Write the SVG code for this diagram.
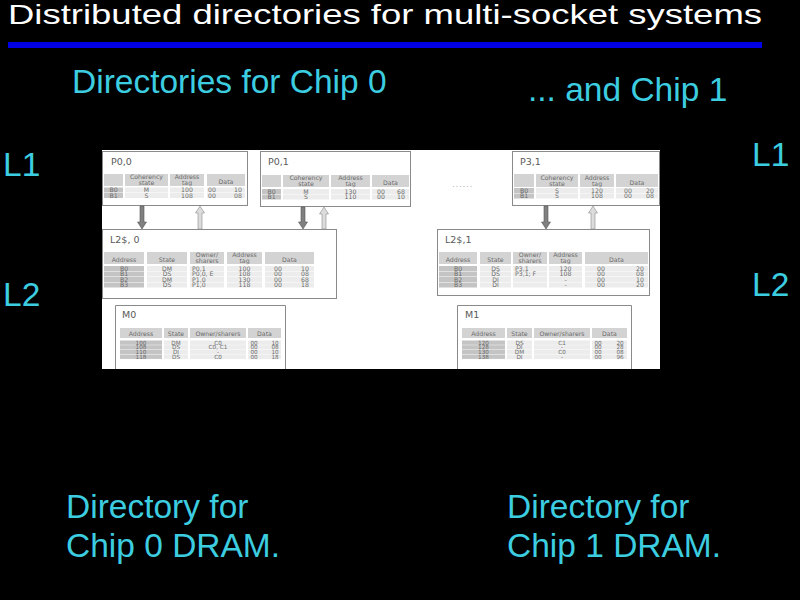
<svg xmlns="http://www.w3.org/2000/svg" width="800" height="600" viewBox="0 0 800 600">
<defs>
<style>
.big{font-family:"Liberation Sans",Arial,sans-serif;fill:#3ccde0;font-size:33.5px}
.box{fill:#fff;stroke:#8a8a8a;stroke-width:1}
.hd{fill:#d3d3d3}
.lb{fill:#c4c4c4}
.cl{fill:#ececec}
.tt{font-family:"DejaVu Sans",Verdana,sans-serif;fill:#5a5a5a;font-size:9.5px}
.t{font-family:"DejaVu Sans",Verdana,sans-serif;fill:#6b6b6b;font-size:6.2px;text-anchor:middle}
.s{font-size:5.7px}
.l{text-anchor:start}
.dn{fill:#808080;stroke:#555;stroke-width:0.6}
.up{fill:#dcdcdc;stroke:#8a8a8a;stroke-width:0.6}
</style>
</defs>
<rect width="800" height="600" fill="#000"/>
<g id="title">
<text x="8" y="24" font-family="'Liberation Sans',Arial,sans-serif" font-size="28" fill="#fff" textLength="754" lengthAdjust="spacingAndGlyphs">Distributed directories for multi-socket systems</text>
<rect x="8" y="42" width="754" height="6" fill="#0000e6"/>
</g>
<g id="labels">
<text class="big" x="72" y="93">Directories for Chip 0</text>
<text class="big" x="528" y="101">... and Chip 1</text>
<text class="big" x="3" y="176">L1</text>
<text class="big" x="3" y="306">L2</text>
<text class="big" x="752" y="166">L1</text>
<text class="big" x="752" y="296">L2</text>
<text class="big" x="66" y="518">Directory for</text>
<text class="big" x="66" y="557">Chip 0 DRAM.</text>
<text class="big" x="507" y="518">Directory for</text>
<text class="big" x="507" y="557">Chip 1 DRAM.</text>
</g>
<rect id="picture" x="102" y="150" width="558" height="219" fill="#fff"/>
<g id="p00">
<rect class="box" x="102.5" y="151.5" width="145" height="54"/>
<text class="tt" x="111" y="165">P0,0</text>
<rect class="hd" x="104" y="174" width="19" height="12"/>
<rect class="hd" x="125" y="174" width="43" height="12"/>
<rect class="hd" x="170" y="174" width="34" height="12"/>
<rect class="hd" x="207" y="174" width="38" height="12"/>
<text class="t" x="146.5" y="179">Coherency</text><text class="t" x="146.5" y="185">state</text>
<text class="t" x="187" y="179">Address</text><text class="t" x="187" y="185">tag</text>
<text class="t" x="226" y="184">Data</text>
<rect class="lb" x="104" y="187.5" width="19" height="5"/><rect class="cl" x="125" y="187.5" width="43" height="5"/><rect class="cl" x="170" y="187.5" width="34" height="5"/><rect class="cl" x="207" y="187.5" width="38" height="5"/>
<rect class="lb" x="104" y="193" width="19" height="5"/><rect class="cl" x="125" y="193" width="43" height="5"/><rect class="cl" x="170" y="193" width="34" height="5"/><rect class="cl" x="207" y="193" width="38" height="5"/>
<text class="t" x="113.5" y="192">B0</text><text class="t" x="146.5" y="192">M</text><text class="t" x="187" y="192">100</text><text class="t" x="212" y="192">00</text><text class="t" x="238" y="192">10</text>
<text class="t" x="113.5" y="197.5">B1</text><text class="t" x="146.5" y="197.5">S</text><text class="t" x="187" y="197.5">108</text><text class="t" x="212" y="197.5">00</text><text class="t" x="238" y="197.5">08</text>
</g>
<g id="p01">
<rect class="box" x="260.5" y="151.5" width="150" height="55"/>
<text class="tt" x="268" y="165">P0,1</text>
<rect class="hd" x="262" y="175" width="19" height="12"/>
<rect class="hd" x="283" y="175" width="46" height="12"/>
<rect class="hd" x="331" y="175" width="39" height="12"/>
<rect class="hd" x="372" y="175" width="37" height="12"/>
<text class="t" x="306" y="180">Coherency</text><text class="t" x="306" y="186">state</text>
<text class="t" x="350.5" y="180">Address</text><text class="t" x="350.5" y="186">tag</text>
<text class="t" x="390.5" y="185">Data</text>
<rect class="lb" x="262" y="189" width="19" height="5"/><rect class="cl" x="283" y="189" width="46" height="5"/><rect class="cl" x="331" y="189" width="39" height="5"/><rect class="cl" x="372" y="189" width="37" height="5"/>
<rect class="lb" x="262" y="194.5" width="19" height="5"/><rect class="cl" x="283" y="194.5" width="46" height="5"/><rect class="cl" x="331" y="194.5" width="39" height="5"/><rect class="cl" x="372" y="194.5" width="37" height="5"/>
<text class="t" x="271.5" y="193.5">B0</text><text class="t" x="306" y="193.5">M</text><text class="t" x="350.5" y="193.5">130</text><text class="t" x="381" y="193.5">00</text><text class="t" x="401" y="193.5">68</text>
<text class="t" x="271.5" y="199">B1</text><text class="t" x="306" y="199">S</text><text class="t" x="350.5" y="199">110</text><text class="t" x="381" y="199">00</text><text class="t" x="401" y="199">10</text>
</g>
<g id="dots">
<text class="t" x="463" y="187" font-size="8" letter-spacing="1.5">......</text>
</g>
<g id="p31">
<rect class="box" x="512.5" y="151.5" width="147" height="54"/>
<text class="tt" x="520" y="165">P3,1</text>
<rect class="hd" x="514" y="174" width="20" height="13"/>
<rect class="hd" x="536" y="174" width="42" height="13"/>
<rect class="hd" x="580" y="174" width="34" height="13"/>
<rect class="hd" x="616" y="174" width="42" height="13"/>
<text class="t" x="557" y="179.5">Coherency</text><text class="t" x="557" y="185.5">state</text>
<text class="t" x="597" y="179.5">Address</text><text class="t" x="597" y="185.5">tag</text>
<text class="t" x="637" y="184.5">Data</text>
<rect class="lb" x="514" y="188" width="20" height="5"/><rect class="cl" x="536" y="188" width="42" height="5"/><rect class="cl" x="580" y="188" width="34" height="5"/><rect class="cl" x="616" y="188" width="42" height="5"/>
<rect class="lb" x="514" y="193.5" width="20" height="5"/><rect class="cl" x="536" y="193.5" width="42" height="5"/><rect class="cl" x="580" y="193.5" width="34" height="5"/><rect class="cl" x="616" y="193.5" width="42" height="5"/>
<text class="t" x="524" y="192.5">B0</text><text class="t" x="557" y="192.5">S</text><text class="t" x="597" y="192.5">120</text><text class="t" x="628" y="192.5">00</text><text class="t" x="650" y="192.5">20</text>
<text class="t" x="524" y="198">B1</text><text class="t" x="557" y="198">S</text><text class="t" x="597" y="198">108</text><text class="t" x="628" y="198">00</text><text class="t" x="650" y="198">08</text>
</g>
<g id="l2s0">
<rect class="box" x="102.5" y="229.5" width="234" height="69"/>
<text class="tt" x="110" y="243">L2$, 0</text>
<rect class="hd" x="104" y="252" width="40" height="12"/>
<rect class="hd" x="147" y="252" width="40" height="12"/>
<rect class="hd" x="190" y="252" width="34" height="12"/>
<rect class="hd" x="227" y="252" width="35" height="12"/>
<rect class="hd" x="265" y="252" width="49" height="12"/>
<text class="t" x="124" y="262">Address</text><text class="t" x="167" y="262">State</text>
<text class="t" x="207" y="257">Owner/</text><text class="t" x="207" y="263">sharers</text>
<text class="t" x="244.5" y="257">Address</text><text class="t" x="244.5" y="263">tag</text>
<text class="t" x="289.5" y="262">Data</text>
<g>
<rect class="lb" x="104" y="266" width="40" height="5"/><rect class="cl" x="147" y="266" width="40" height="5"/><rect class="cl" x="190" y="266" width="34" height="5"/><rect class="cl" x="227" y="266" width="35" height="5"/><rect class="cl" x="265" y="266" width="49" height="5"/>
<rect class="lb" x="104" y="271.5" width="40" height="5"/><rect class="cl" x="147" y="271.5" width="40" height="5"/><rect class="cl" x="190" y="271.5" width="34" height="5"/><rect class="cl" x="227" y="271.5" width="35" height="5"/><rect class="cl" x="265" y="271.5" width="49" height="5"/>
<rect class="lb" x="104" y="277" width="40" height="5"/><rect class="cl" x="147" y="277" width="40" height="5"/><rect class="cl" x="190" y="277" width="34" height="5"/><rect class="cl" x="227" y="277" width="35" height="5"/><rect class="cl" x="265" y="277" width="49" height="5"/>
<rect class="lb" x="104" y="282.5" width="40" height="5"/><rect class="cl" x="147" y="282.5" width="40" height="5"/><rect class="cl" x="190" y="282.5" width="34" height="5"/><rect class="cl" x="227" y="282.5" width="35" height="5"/><rect class="cl" x="265" y="282.5" width="49" height="5"/>
</g>
<text class="t" x="124" y="270.5">B0</text><text class="t" x="167" y="270.5">DM</text><text class="t l" x="192" y="270.5">P0,1</text><text class="t" x="244.5" y="270.5">100</text><text class="t" x="278" y="270.5">00</text><text class="t" x="305" y="270.5">10</text>
<text class="t" x="124" y="276">B1</text><text class="t" x="167" y="276">DS</text><text class="t l" x="192" y="276">P0,0, E</text><text class="t" x="244.5" y="276">108</text><text class="t" x="278" y="276">00</text><text class="t" x="305" y="276">08</text>
<text class="t" x="124" y="281.5">B2</text><text class="t" x="167" y="281.5">DM</text><text class="t l" x="192" y="281.5">P1,0</text><text class="t" x="244.5" y="281.5">130</text><text class="t" x="278" y="281.5">00</text><text class="t" x="305" y="281.5">68</text>
<text class="t" x="124" y="287">B3</text><text class="t" x="167" y="287">DS</text><text class="t l" x="192" y="287">P1,0</text><text class="t" x="244.5" y="287">118</text><text class="t" x="278" y="287">00</text><text class="t" x="305" y="287">18</text>
</g>
<g id="l2s1">
<rect class="box" x="437.5" y="229.5" width="212" height="66"/>
<text class="tt" x="445" y="243">L2$,1</text>
<rect class="hd" x="439" y="252" width="38" height="12"/>
<rect class="hd" x="480" y="252" width="31" height="12"/>
<rect class="hd" x="513" y="252" width="34" height="12"/>
<rect class="hd" x="549" y="252" width="33" height="12"/>
<rect class="hd" x="585" y="252" width="63" height="12"/>
<text class="t" x="458" y="262">Address</text><text class="t" x="495.5" y="262">State</text>
<text class="t" x="530" y="257">Owner/</text><text class="t" x="530" y="263">sharers</text>
<text class="t" x="565.5" y="257">Address</text><text class="t" x="565.5" y="263">tag</text>
<text class="t" x="616.5" y="262">Data</text>
<g>
<rect class="lb" x="439" y="266" width="38" height="5"/><rect class="cl" x="480" y="266" width="31" height="5"/><rect class="cl" x="513" y="266" width="34" height="5"/><rect class="cl" x="549" y="266" width="33" height="5"/><rect class="cl" x="585" y="266" width="63" height="5"/>
<rect class="lb" x="439" y="271.5" width="38" height="5"/><rect class="cl" x="480" y="271.5" width="31" height="5"/><rect class="cl" x="513" y="271.5" width="34" height="5"/><rect class="cl" x="549" y="271.5" width="33" height="5"/><rect class="cl" x="585" y="271.5" width="63" height="5"/>
<rect class="lb" x="439" y="277" width="38" height="5"/><rect class="cl" x="480" y="277" width="31" height="5"/><rect class="cl" x="513" y="277" width="34" height="5"/><rect class="cl" x="549" y="277" width="33" height="5"/><rect class="cl" x="585" y="277" width="63" height="5"/>
<rect class="lb" x="439" y="282.5" width="38" height="5"/><rect class="cl" x="480" y="282.5" width="31" height="5"/><rect class="cl" x="513" y="282.5" width="34" height="5"/><rect class="cl" x="549" y="282.5" width="33" height="5"/><rect class="cl" x="585" y="282.5" width="63" height="5"/>
</g>
<text class="t" x="458" y="270.5">B0</text><text class="t" x="495.5" y="270.5">DS</text><text class="t l" x="515" y="270.5">P3,1</text><text class="t" x="565.5" y="270.5">120</text><text class="t" x="601" y="270.5">00</text><text class="t" x="640" y="270.5">20</text>
<text class="t" x="458" y="276">B1</text><text class="t" x="495.5" y="276">DS</text><text class="t l" x="515" y="276">P3,1; F</text><text class="t" x="565.5" y="276">108</text><text class="t" x="601" y="276">00</text><text class="t" x="640" y="276">08</text>
<text class="t" x="458" y="281.5">B2</text><text class="t" x="495.5" y="281.5">DI</text><text class="t" x="565.5" y="281.5">-</text><text class="t" x="601" y="281.5">00</text><text class="t" x="640" y="281.5">10</text>
<text class="t" x="458" y="287">B3</text><text class="t" x="495.5" y="287">DI</text><text class="t" x="565.5" y="287">-</text><text class="t" x="601" y="287">00</text><text class="t" x="640" y="287">20</text>
</g>
<g id="m0">
<path class="box" d="M115.5,369 V305.5 H285.5 V369"/>
<text class="tt" x="122" y="318">M0</text>
<rect class="hd" x="120" y="328" width="42" height="10"/>
<rect class="hd" x="164" y="328" width="24" height="10"/>
<rect class="hd" x="190" y="328" width="56" height="10"/>
<rect class="hd" x="248" y="328" width="33" height="10"/>
<text class="t" x="141" y="335.5">Address</text><text class="t" x="176" y="335.5">State</text><text class="t" x="218" y="335.5">Owner/sharers</text><text class="t" x="264.5" y="335.5">Data</text>
<g>
<rect class="lb" x="120" y="340.5" width="42" height="4.3"/><rect class="cl" x="164" y="340.5" width="24" height="4.3"/><rect class="cl" x="190" y="340.5" width="56" height="4.3"/><rect class="cl" x="248" y="340.5" width="33" height="4.3"/>
<rect class="lb" x="120" y="345.2" width="42" height="4.3"/><rect class="cl" x="164" y="345.2" width="24" height="4.3"/><rect class="cl" x="190" y="345.2" width="56" height="4.3"/><rect class="cl" x="248" y="345.2" width="33" height="4.3"/>
<rect class="lb" x="120" y="349.9" width="42" height="4.3"/><rect class="cl" x="164" y="349.9" width="24" height="4.3"/><rect class="cl" x="190" y="349.9" width="56" height="4.3"/><rect class="cl" x="248" y="349.9" width="33" height="4.3"/>
<rect class="lb" x="120" y="354.6" width="42" height="4.3"/><rect class="cl" x="164" y="354.6" width="24" height="4.3"/><rect class="cl" x="190" y="354.6" width="56" height="4.3"/><rect class="cl" x="248" y="354.6" width="33" height="4.3"/>
</g>
<text class="t s" x="141" y="344.5">100</text><text class="t s" x="176" y="344.5">DM</text><text class="t s" x="218" y="344.5">C0</text><text class="t s" x="254" y="344.5">00</text><text class="t s" x="275" y="344.5">10</text>
<text class="t s" x="141" y="349.2">108</text><text class="t s" x="176" y="349.2">DS</text><text class="t s" x="218" y="349.2">C0, C1</text><text class="t s" x="254" y="349.2">00</text><text class="t s" x="275" y="349.2">08</text>
<text class="t s" x="141" y="353.9">110</text><text class="t s" x="176" y="353.9">DI</text><text class="t s" x="218" y="353.9">-</text><text class="t s" x="254" y="353.9">00</text><text class="t s" x="275" y="353.9">10</text>
<text class="t s" x="141" y="358.6">118</text><text class="t s" x="176" y="358.6">DS</text><text class="t s" x="218" y="358.6">C0</text><text class="t s" x="254" y="358.6">00</text><text class="t s" x="275" y="358.6">18</text>
</g>
<g id="m1">
<path class="box" d="M457.5,369 V305.5 H631.5 V369"/>
<text class="tt" x="465" y="318">M1</text>
<rect class="hd" x="462" y="328" width="43" height="10"/>
<rect class="hd" x="507" y="328" width="25" height="10"/>
<rect class="hd" x="534" y="328" width="56" height="10"/>
<rect class="hd" x="592" y="328" width="35" height="10"/>
<text class="t" x="483.5" y="335.5">Address</text><text class="t" x="519.5" y="335.5">State</text><text class="t" x="562" y="335.5">Owner/sharers</text><text class="t" x="609.5" y="335.5">Data</text>
<g>
<rect class="lb" x="462" y="340.5" width="43" height="4.3"/><rect class="cl" x="507" y="340.5" width="25" height="4.3"/><rect class="cl" x="534" y="340.5" width="56" height="4.3"/><rect class="cl" x="592" y="340.5" width="35" height="4.3"/>
<rect class="lb" x="462" y="345.2" width="43" height="4.3"/><rect class="cl" x="507" y="345.2" width="25" height="4.3"/><rect class="cl" x="534" y="345.2" width="56" height="4.3"/><rect class="cl" x="592" y="345.2" width="35" height="4.3"/>
<rect class="lb" x="462" y="349.9" width="43" height="4.3"/><rect class="cl" x="507" y="349.9" width="25" height="4.3"/><rect class="cl" x="534" y="349.9" width="56" height="4.3"/><rect class="cl" x="592" y="349.9" width="35" height="4.3"/>
<rect class="lb" x="462" y="354.6" width="43" height="4.3"/><rect class="cl" x="507" y="354.6" width="25" height="4.3"/><rect class="cl" x="534" y="354.6" width="56" height="4.3"/><rect class="cl" x="592" y="354.6" width="35" height="4.3"/>
</g>
<text class="t s" x="483.5" y="344.5">120</text><text class="t s" x="519.5" y="344.5">DS</text><text class="t s" x="562" y="344.5">C1</text><text class="t s" x="598" y="344.5">00</text><text class="t s" x="620" y="344.5">20</text>
<text class="t s" x="483.5" y="349.2">128</text><text class="t s" x="519.5" y="349.2">DI</text><text class="t s" x="562" y="349.2">-</text><text class="t s" x="598" y="349.2">00</text><text class="t s" x="620" y="349.2">28</text>
<text class="t s" x="483.5" y="353.9">130</text><text class="t s" x="519.5" y="353.9">DM</text><text class="t s" x="562" y="353.9">C0</text><text class="t s" x="598" y="353.9">00</text><text class="t s" x="620" y="353.9">08</text>
<text class="t s" x="483.5" y="358.6">138</text><text class="t s" x="519.5" y="358.6">DI</text><text class="t s" x="562" y="358.6">-</text><text class="t s" x="598" y="358.6">00</text><text class="t s" x="620" y="358.6">96</text>
</g>
<g id="connectors">
<polygon class="dn" points="140,206 144,206 144,222 146.5,222 142,229 137.5,222 140,222"/>
<polygon class="up" points="200,206 204.5,213 202,213 202,229 198,229 198,213 195.5,213"/>
<polygon class="dn" points="301,207 305,207 305,222 307.5,222 303,229 298.5,222 301,222"/>
<polygon class="up" points="324,207 328.5,214 326,214 326,229 322,229 322,214 319.5,214"/>
<polygon class="dn" points="544,206 548,206 548,222 550.5,222 546,229 541.5,222 544,222"/>
<polygon class="up" points="593,206 597.5,213 595,213 595,229 591,229 591,213 588.5,213"/>
</g>
</svg>
